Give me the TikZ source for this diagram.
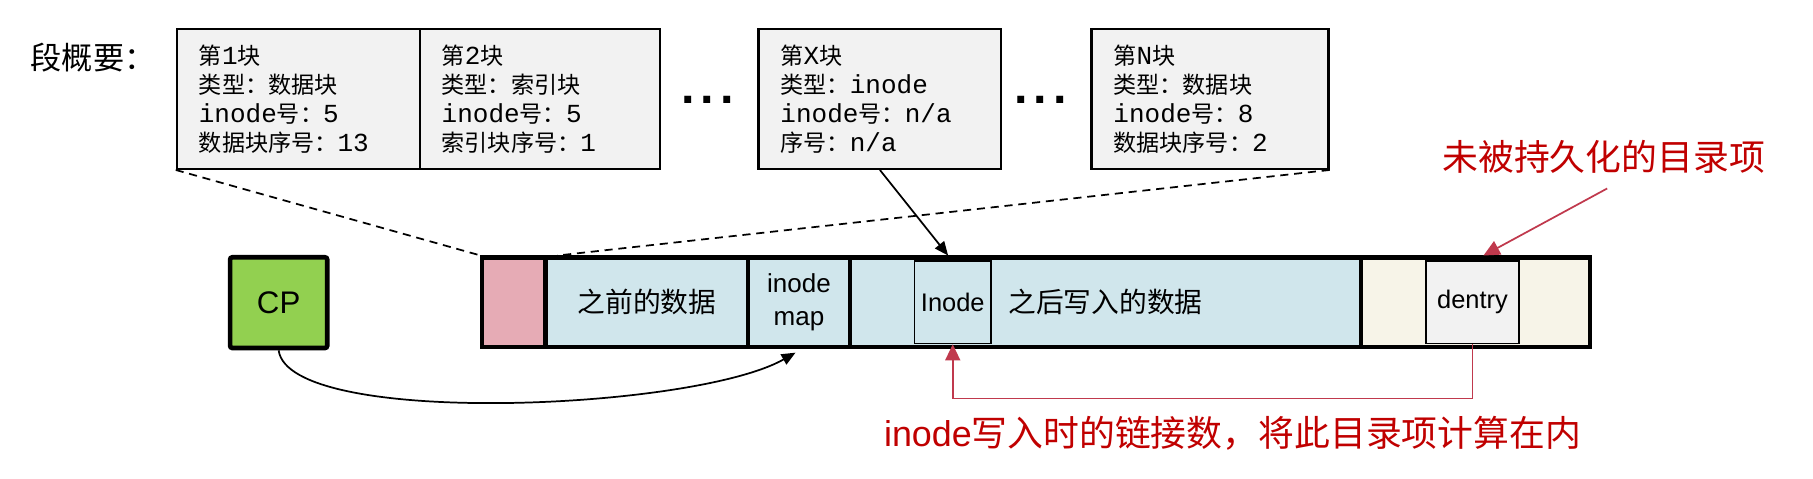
\documentclass[tikz,border=0pt]{standalone}
\usepackage{fontspec}
\setmainfont{Noto Sans CJK SC}
\newfontfamily\arialf{Liberation Sans}
\newfontfamily\monof{Liberation Mono}
\usetikzlibrary{arrows.meta}
\definecolor{boxgray}{RGB}{242,242,242}
\definecolor{segpink}{RGB}{230,171,181}
\definecolor{segblue}{RGB}{208,230,236}
\definecolor{segbeige}{RGB}{247,244,232}
\definecolor{cpgreen}{RGB}{146,208,80}
\definecolor{redtext}{RGB}{192,0,0}
\definecolor{redline}{RGB}{192,57,77}
\newcommand{\latn}[1]{{\monof\fontsize{22.5}{25}\selectfont #1}}
\begin{document}
\begin{tikzpicture}[x=1pt,y=-1pt,
  sumbox/.style={draw, line width=2pt, fill=boxgray, anchor=north west, minimum height=121pt,
    inner xsep=19pt, inner ysep=0pt, align=left, font=\fontsize{20}{25}\selectfont},
  seg/.style={draw, line width=4pt, inner sep=0pt, minimum height=77.2pt},
  subbox/.style={draw, line width=1.5pt, inner sep=0pt, minimum height=71pt, font=\arialf\fontsize{22}{26}\selectfont},
  dots/.style={font=\arialf\bfseries\fontsize{42}{42}\selectfont, inner sep=0pt},
  redlabel/.style={text=redtext, font=\fontsize{31}{36}\selectfont},
  blackarrow/.style={line width=1.5pt, -{Triangle[length=12pt,width=10pt]}},
  redarrow/.style={redline, line width=1.5pt, -{Triangle[length=14pt,width=13pt]}},
  dashline/.style={line width=1.5pt, dash pattern=on 7pt off 5pt}
]
\useasboundingbox (0,0) rectangle (1568,414);

% title
\node[anchor=west, font=\fontsize{27}{30}\selectfont] (title) at (23,50) {段概要：};

% summary boxes
\node[sumbox, text width=172pt] (b1) at (152,24)
  {第\latn{1}块\\类型：数据块\\\latn{inode}号：\latn{5}\\数据块序号：\latn{13}};
\node[sumbox, text width=170pt] (b2) at (362,24)
  {第\latn{2}块\\类型：索引块\\\latn{inode}号：\latn{5}\\索引块序号：\latn{1}};
\node[sumbox, text width=172pt] (bx) at (655,24)
  {第\latn{X}块\\类型：\latn{inode}\\\latn{inode}号：\latn{n/a}\\序号：\latn{n/a}};
\node[sumbox, text width=167pt] (bn) at (943,24)
  {第\latn{N}块\\类型：数据块\\\latn{inode}号：\latn{8}\\数据块序号：\latn{2}};

\node[dots] (dots1) at (612,86) {.\kern5pt.\kern5pt.};
\node[dots] (dots2) at (900,86) {.\kern5pt.\kern5pt.};

% CP
\node[draw, line width=4pt, fill=cpgreen, minimum width=84pt, minimum height=78.5pt, inner sep=0pt,
  rounded corners=2pt, font=\arialf\fontsize{27}{30}\selectfont] (cp) at (241,261.75) {CP};

% segment bar
\node[seg, fill=segpink, minimum width=55pt] (s0) at (444.5,261.4) {};
\node[seg, fill=segblue, minimum width=175pt, font=\fontsize{24}{28}\selectfont] (s1) at (559.5,261.4) {之前的数据};
\node[seg, fill=segblue, minimum width=88pt, align=center, font=\arialf\fontsize{22.5}{29}\selectfont] (s2) at (691,261.4) {inode\\map};
\node[seg, fill=segblue, minimum width=442pt, font=\fontsize{24}{28}\selectfont] (s3) at (956,261.4) {之后写入的数据};
\node[seg, fill=segbeige, minimum width=198pt] (s4) at (1276,261.4) {};

\node[subbox, fill=segblue, minimum width=66pt] (inode) at (824,261.5) {Inode};
\node[subbox, fill=boxgray, minimum width=81pt] (dentry) at (1273.5,261.5) {dentry};

% dashed lines
\coordinate (dr) at (482,221);
\draw[dashline] (b1.south west) -- (s0.north west);
\draw[dashline] (bn.south east) -- (dr);

% black arrows
\coordinate (xa) at (820,221);
\draw[blackarrow] (bx.south) -- (xa);
\coordinate (cpa) at (688,305);
\draw[blackarrow] (cp.south) .. controls (250,370) and (600,355) .. (cpa);

% red labels and arrows
\node[redlabel] (lab1) at (1387,136) {未被持久化的目录项};
\node[redlabel] (lab2) at (1066,375) {{\arialf inode}写入时的链接数，将此目录项计算在内};
\coordinate (r1s) at (1390,163);
\coordinate (r1e) at (1283,221);
\draw[redarrow] (r1s) -- (r1e);
\draw[redarrow] (dentry.south) -- ++(0,47) -| (inode.south);
\end{tikzpicture}
\end{document}
